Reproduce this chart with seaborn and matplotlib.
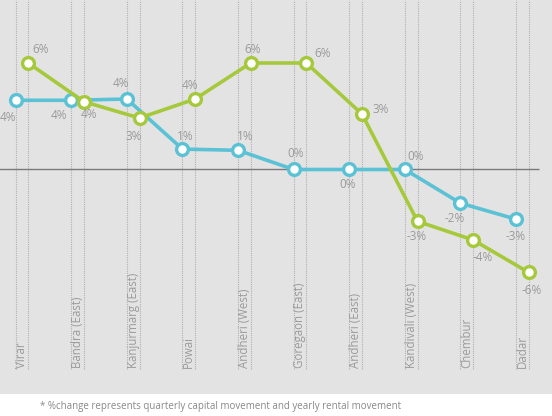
import matplotlib
matplotlib.use("Agg")
import matplotlib.pyplot as plt
import seaborn as sns
import pandas as pd

locations = ["Virar", "Bandra (East)", "Kanjurmarg (East)", "Powai", "Andheri (West)",
             "Goregaon (East)", "Andheri (East)", "Kandivali (West)", "Chembur", "Dadar"]
capital_change = [3.9, 3.9, 3.97, 1.15, 1.08, 0.0, 0.0, 0.0, -1.9, -2.8]
rental_change = [6.0, 3.82, 2.9, 3.97, 6.0, 6.0, 3.13, -2.92, -3.97, -5.8]
footnote = "* %change represents quarterly capital movement and yearly rental movement"

BLUE = "#5bc2d5"
GREEN = "#a6c93c"
TEXT = "#9a9a9a"

# label offsets in pixels (dx, dy with y pointing down)
capital_off = [(-8, 17), (-12, 15), (-6, -16), (3, -13), (7, -14),
               (2, -16), (-2, 15), (11, -13), (-6, 15), (0, 17)]
rental_off = [(12, -14), (5, 13), (-6, 18), (-5, -14), (2, -14),
              (16, -10), (19, -4), (-1, 15), (10, 18), (3, 18)]

sns.set_style("white")
plt.rcParams["font.family"] = ["Open Sans", "DejaVu Sans"]

fig = plt.figure(figsize=(5.52, 4.16), dpi=100, facecolor="white")
ax = fig.add_axes([0, 22 / 416, 1, 394 / 416])
ax.set_facecolor("#e3e3e3")

pos = list(range(len(locations)))
shift = 0.227
df = pd.DataFrame({
    "x": pos + [p + shift for p in pos],
    "change": capital_change + rental_change,
    "kind": ["capital"] * len(pos) + ["rental"] * len(pos),
})

ymin, ymax = -12.65, 9.55
line_bottom = -11.24

for p in pos:
    ax.vlines([p, p + shift], line_bottom, ymax, colors="#b0b0b0",
              linestyles=(0, (1, 1)), linewidth=0.8, zorder=1)
    ax.text(p + shift / 2, line_bottom + 0.05, locations[p], rotation=90,
            ha="center", va="bottom", fontsize=8.3, color=TEXT)

ax.hlines(0, -0.3, 9.41, colors="#7a7a7a", linewidth=1, zorder=2)

sns.lineplot(data=df, x="x", y="change", hue="kind", palette=[BLUE, GREEN],
             marker="o", markersize=8.5, markerfacecolor="white", markeredgewidth=2.4,
             linewidth=2.6, legend=False, ax=ax, zorder=3)
for ln, col in zip(ax.lines, [BLUE, GREEN]):
    ln.set_markeredgecolor(col)

for vals, offs, sh in [(capital_change, capital_off, 0), (rental_change, rental_off, shift)]:
    for p, v, (dx, dy) in zip(pos, vals, offs):
        ax.annotate(f"{int(round(v))}%", (p + sh, v), xytext=(dx, -dy),
                    textcoords="offset pixels", ha="center", va="center",
                    fontsize=8.5, color=TEXT)

ax.set_xlim(-0.282, 9.646)
ax.set_ylim(ymin, ymax)
ax.set_xlabel("")
ax.set_ylabel("")
ax.set_xticks([])
ax.set_yticks([])
for s in ax.spines.values():
    s.set_visible(False)

fig.text(40 / 552, 1 - 406 / 416, footnote, fontsize=7, color="#888888",
         ha="left", va="center")

fig.savefig("out.png", dpi=100, facecolor="white")
